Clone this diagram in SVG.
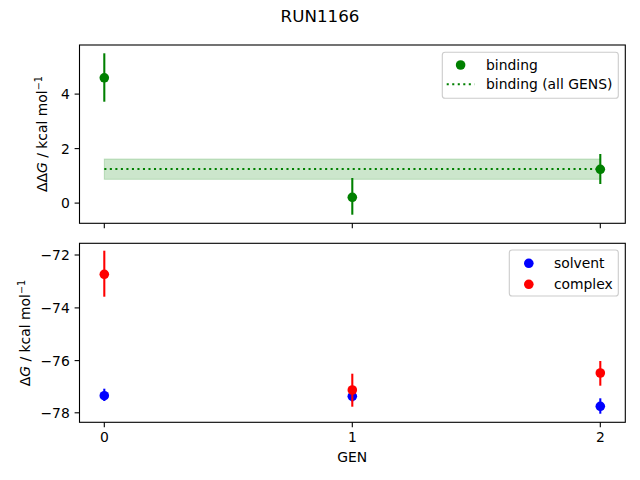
<svg xmlns="http://www.w3.org/2000/svg" width="640" height="480" viewBox="0 0 640 480">
<style>
text{font-family:"DejaVu Sans",sans-serif;font-size:13.9px;fill:#000}
.spine{fill:none;stroke:#000;stroke-width:1.1}
.tick{stroke:#000;stroke-width:1.1}
circle{r:4.8px}
.g{fill:#008000}.ge{stroke:#008000;stroke-width:2.08}
.b{fill:#0000ff}.be{stroke:#0000ff;stroke-width:2.08}
.r{fill:#ff0000}.re{stroke:#ff0000;stroke-width:2.08}
.leg{fill:#fff;fill-opacity:0.8;stroke:#cccccc;stroke-width:1.1}
.yl{text-anchor:end}
.xl{text-anchor:middle}
</style>
<rect width="640" height="480" fill="#fff"/>
<text x="320" y="22" style="font-size:16.7px" text-anchor="middle">RUN1166</text>

<g id="top-axes">
<rect x="104.3" y="159" width="496" height="20.3" fill="#008000" fill-opacity="0.2" stroke="#008000" stroke-opacity="0.2" stroke-width="1"/>
<line x1="104.3" y1="169" x2="600.3" y2="169" stroke="#008000" stroke-width="2.08" stroke-dasharray="2.08 3.44"/>
<g id="top-points">
<line class="ge" x1="104.3" y1="53.3" x2="104.3" y2="101.7"/>
<circle class="g" cx="104.3" cy="77.8" r="4.8"/>
<line class="ge" x1="352.3" y1="178" x2="352.3" y2="214.7"/>
<circle class="g" cx="352.3" cy="197.3" r="4.8"/>
<line class="ge" x1="600.3" y1="154" x2="600.3" y2="184"/>
<circle class="g" cx="600.3" cy="169.3" r="4.8"/>
</g>
<rect class="spine" x="79.5" y="45" width="545.8" height="178.3"/>
<g>
<line class="tick" x1="79.5" y1="203.1" x2="74.6" y2="203.1"/>
<line class="tick" x1="79.5" y1="148.6" x2="74.6" y2="148.6"/>
<line class="tick" x1="79.5" y1="94.1" x2="74.6" y2="94.1"/>
<line class="tick" x1="104.3" y1="223.3" x2="104.3" y2="228.2"/>
<line class="tick" x1="352.3" y1="223.3" x2="352.3" y2="228.2"/>
<line class="tick" x1="600.3" y1="223.3" x2="600.3" y2="228.2"/>
</g>
<text class="yl" x="69.8" y="208.2">0</text>
<text class="yl" x="69.8" y="153.7">2</text>
<text class="yl" x="69.8" y="99.2">4</text>
<text transform="translate(47,134) rotate(-90)" text-anchor="middle">ΔΔ<tspan font-style="oblique">G</tspan> / kcal mol<tspan dy="-5" style="font-size:9.7px">−1</tspan></text>
<g id="top-legend">
<rect class="leg" x="442.3" y="52.3" width="176" height="46" rx="2.8"/>
<circle class="g" cx="460.6" cy="65" r="4.8"/>
<text x="486" y="69.8">binding</text>
<line x1="446.7" y1="84.3" x2="474.5" y2="84.3" stroke="#008000" stroke-width="2.08" stroke-dasharray="2.08 3.44"/>
<text x="486" y="89.3">binding (all GENS)</text>
</g>
</g>

<g id="bottom-axes">
<g id="bottom-points">
<line class="re" x1="104.3" y1="250.7" x2="104.3" y2="296.7"/>
<circle class="r" cx="104.3" cy="274.3" r="4.8"/>
<line class="be" x1="104.3" y1="388.7" x2="104.3" y2="401"/>
<circle class="b" cx="104.3" cy="395.7" r="4.8"/>
<line class="be" x1="352.3" y1="391" x2="352.3" y2="401.5"/>
<circle class="b" cx="352.3" cy="396.3" r="4.8"/>
<line class="re" x1="352.3" y1="373.7" x2="352.3" y2="406.7"/>
<circle class="r" cx="352.3" cy="390" r="4.8"/>
<line class="be" x1="600.3" y1="398.3" x2="600.3" y2="413.7"/>
<circle class="b" cx="600.3" cy="406.3" r="4.8"/>
<line class="re" x1="600.3" y1="361" x2="600.3" y2="385.7"/>
<circle class="r" cx="600.3" cy="373" r="4.8"/>
</g>
<rect class="spine" x="79.5" y="243.3" width="545.8" height="179"/>
<g>
<line class="tick" x1="79.5" y1="255" x2="74.6" y2="255"/>
<line class="tick" x1="79.5" y1="307.9" x2="74.6" y2="307.9"/>
<line class="tick" x1="79.5" y1="360.6" x2="74.6" y2="360.6"/>
<line class="tick" x1="79.5" y1="412.8" x2="74.6" y2="412.8"/>
<line class="tick" x1="104.3" y1="422.3" x2="104.3" y2="427.2"/>
<line class="tick" x1="352.3" y1="422.3" x2="352.3" y2="427.2"/>
<line class="tick" x1="600.3" y1="422.3" x2="600.3" y2="427.2"/>
</g>
<text class="yl" x="69.8" y="260.1">−72</text>
<text class="yl" x="69.8" y="313">−74</text>
<text class="yl" x="69.8" y="365.7">−76</text>
<text class="yl" x="69.8" y="417.9">−78</text>
<text class="xl" x="104.3" y="442.4">0</text>
<text class="xl" x="352.3" y="442.4">1</text>
<text class="xl" x="600.3" y="442.4">2</text>
<text class="xl" x="352.3" y="461.5">GEN</text>
<text transform="translate(29.5,333) rotate(-90)" text-anchor="middle">Δ<tspan font-style="oblique">G</tspan> / kcal mol<tspan dy="-5" style="font-size:9.7px">−1</tspan></text>
<g id="bottom-legend">
<rect class="leg" x="509.3" y="250" width="109" height="46" rx="2.8"/>
<circle class="b" cx="528.8" cy="263.3" r="4.8"/>
<text x="553.9" y="267.8">solvent</text>
<circle class="r" cx="528.8" cy="284.3" r="4.8"/>
<text x="553.9" y="288.8">complex</text>
</g>
</g>
</svg>
